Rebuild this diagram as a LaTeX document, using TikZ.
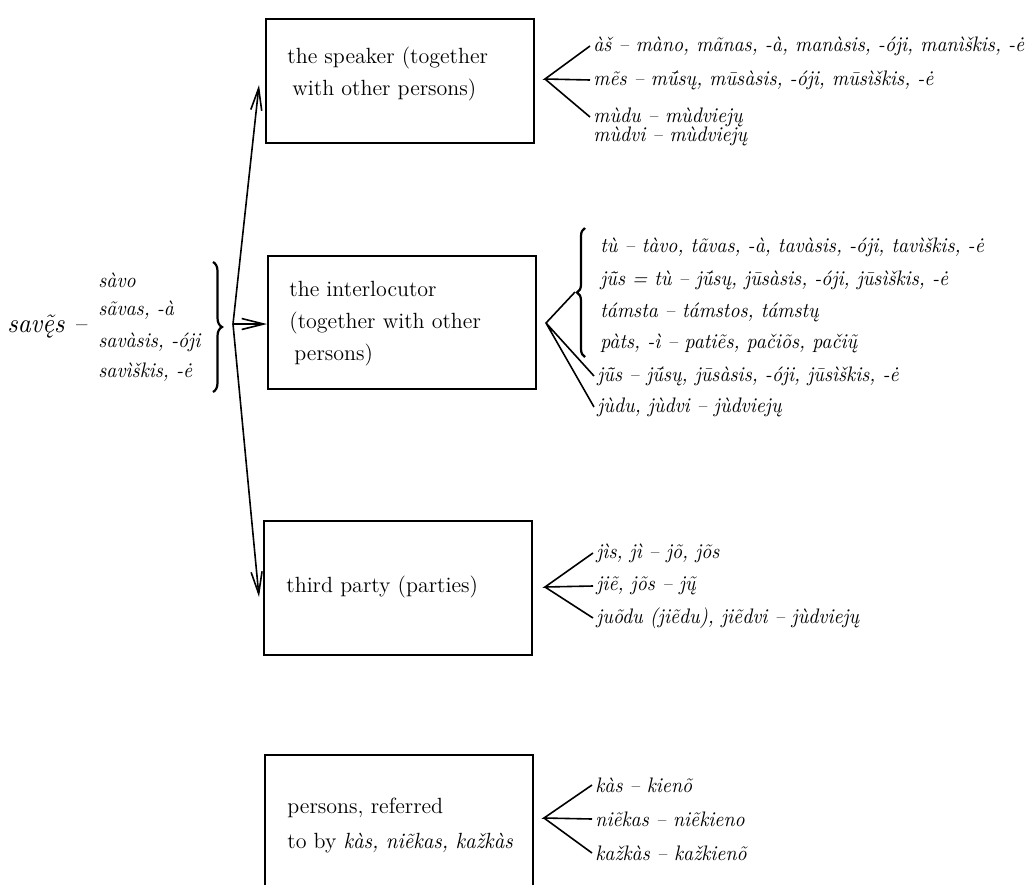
\documentclass[tikz,border=0pt]{standalone}
\usepackage{fontspec}
% slightly condensed Latin Modern italic for the word lists
\newfontfamily\listfont{lmroman10-regular.otf}[ItalicFont=lmroman10-italic.otf, FakeStretch=0.94]
\usetikzlibrary{arrows.meta,decorations.pathreplacing}

\begin{document}
\begin{tikzpicture}[x=0.5pt,y=-0.5pt,
  frame/.style={draw, line width=0.8pt, minimum width=134pt, minimum height=#1,
    anchor=north west, inner sep=0pt},
  lbl/.style={anchor=west, align=left, inner sep=0pt, font=\fontsize{11}{16}\selectfont},
  itm/.style={anchor=west, inner sep=1.5pt, font=\fontsize{10.5}{12}\selectfont\listfont\itshape},
  fan/.style={line width=0.8pt},
  brc/.style={decorate, decoration={brace, amplitude=#1}, line width=1.1pt},
  arr/.style={line width=0.8pt, -{Straight Barb[length=11pt,width=5.5pt,line width=0.8pt]}}
]
\useasboundingbox (0,0) rectangle (1032,884);

% reflexive pronoun and its possessive forms
\node[anchor=west, inner sep=0pt, font=\fontsize{13.5}{16}\selectfont\listfont\itshape] (sav) at (7,327) {savę̃s –};
\node[itm] (v1) at (95,280) {sàvo};
\node[itm] (v2) at (95,310) {sãvas, -à};
\node[itm] (v3) at (95,342) {savàsis, -óji};
\node[itm] (v4) at (95,372) {savìškis, -ė};
\draw[brc=4.5pt] (213,262) -- (213,392);
\coordinate (J) at (233,324);

% the speaker
\node[frame=62pt] (spk) at (265,18) {};
\node[lbl] (spkL) at (287,74) {the speaker (together\\\hspace*{2.5pt}with other persons)};
\coordinate (spkA) at (259,85);
\coordinate (spkF) at (545,79);
\node[itm] (s1) at (590,46) {àš – màno, mãnas, -à, manàsis, -óji, manìškis, -ė};
\node[itm] (s2) at (590,80) {mẽs – mū́sų, mūsàsis, -óji, mūsìškis, -ė};
\node[itm] (s3) at (590,117) {mùdu – mùdviejų};
\node[itm] (s4) at (590,136) {mùdvi – mùdviejų};
\draw[fan] (s1.west) -- (spkF) -- (s2.west) (spkF) -- (s3.west);

% the interlocutor
\node[frame=66.5pt] (itl) at (267,255) {};
\node[lbl] (itlL) at (289,324) {the interlocutor\\(together with other\\\hspace*{2.5pt}persons)};
\coordinate (itlF) at (546,323);
\draw[brc=4pt] (585,357) -- (585,228);
\coordinate (itlB) at (575,292);
\node[itm] (i1) at (597,247) {tù – tàvo, tãvas, -à, tavàsis, -óji, tavìškis, -ė};
\node[itm] (i2) at (597,280) {jū̃s = tù – jū́sų, jūsàsis, -óji, jūsìškis, -ė};
\node[itm] (i3) at (597,312) {támsta – támstos, támstų};
\node[itm] (i4) at (597,343) {pàts, -ì – patiẽs, pačiõs, pačių̃};
\node[itm] (i5) at (594,376) {jū̃s – jū́sų, jūsàsis, -óji, jūsìškis, -ė};
\node[itm] (i6) at (594,407) {jùdu, jùdvi – jùdviejų};
\draw[fan] (itlB) -- (itlF) -- (i5.west) (itlF) -- (i6.west);

% third party
\node[frame=67pt] (thd) at (263,520) {};
\node[lbl] (thdL) at (286,587) {third party (parties)};
\coordinate (thdA) at (259,597);
\coordinate (thdF) at (545,587);
\node[itm] (t1) at (593,553) {jìs, jì – jõ, jõs};
\node[itm] (t2) at (593,586) {jiẽ, jõs – jų̃};
\node[itm] (t3) at (593,618) {juõdu (jiẽdu), jiẽdvi – jùdviejų};
\draw[fan] (t1.west) -- (thdF) -- (t2.west) (thdF) -- (t3.west);

% indefinite persons
\node[frame=80pt] (prs) at (264,754) {};
\node[lbl, font=\fontsize{11}{17.5}\selectfont] (prsL) at (287,825) {persons, referred\\to by {\listfont\itshape kàs, niẽkas, kažkàs}};
\coordinate (prsF) at (544,818);
\node[itm] (p1) at (592,785) {kàs – kienõ};
\node[itm] (p2) at (592,819) {niẽkas – niẽkieno};
\node[itm] (p3) at (592,853) {kažkàs – kažkienõ};
\draw[fan] (p1.west) -- (prsF) -- (p2.west) (prsF) -- (p3.west);

% arrows from the reflexive pronoun to the persons
\draw[arr] (J) -- (spkA);
\draw[arr] (J) -- (J -| itl.west);
\draw[arr] (J) -- (thdA);
\end{tikzpicture}
\end{document}
